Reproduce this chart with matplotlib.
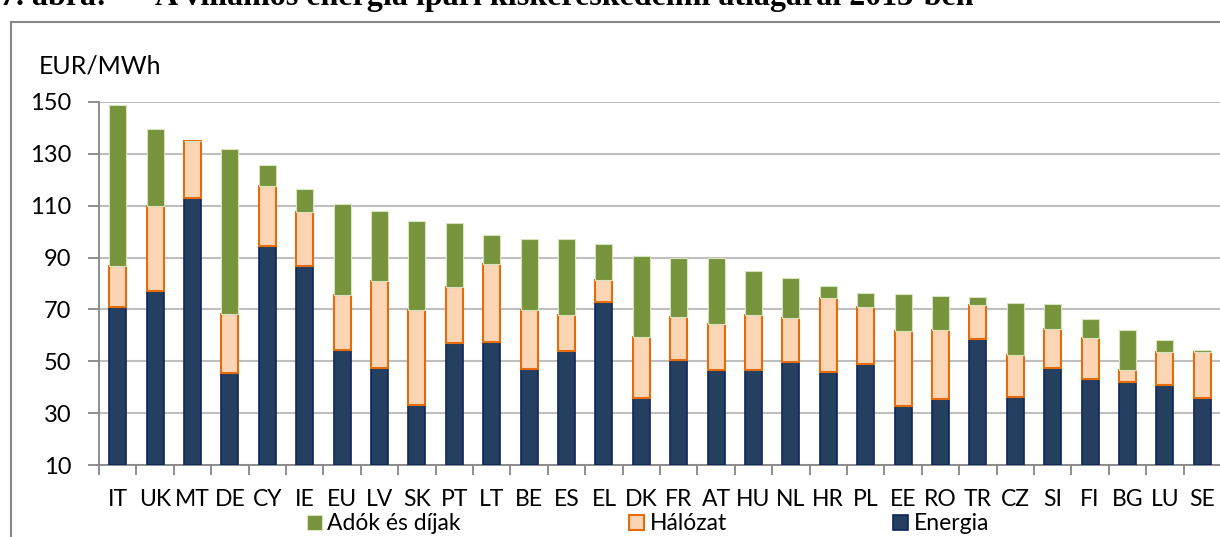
import matplotlib
matplotlib.use("Agg")
import matplotlib.pyplot as plt
import matplotlib.patches as mpatches
import numpy as np

plt.rcParams['font.family'] = ['Lato', 'DejaVu Sans']

countries = ['IT', 'UK', 'MT', 'DE', 'CY', 'IE', 'EU', 'LV', 'SK', 'PT', 'LT', 'BE', 'ES', 'EL', 'DK',
             'FR', 'AT', 'HU', 'NL', 'HR', 'PL', 'EE', 'RO', 'TR', 'CZ', 'SI', 'FI', 'BG', 'LU', 'SE']
energia = [71.0, 77.0, 112.8, 45.3, 94.3, 86.6, 54.4, 47.4, 33.2, 57.2, 57.5, 47.0, 53.8, 72.9, 35.8,
           50.6, 46.6, 46.6, 49.7, 46.0, 49.0, 32.8, 35.4, 58.6, 36.1, 47.6, 43.2, 42.0, 40.8, 35.8]
halozat = [15.6, 33.0, 22.2, 23.0, 23.2, 21.1, 21.0, 33.5, 36.6, 21.6, 29.9, 22.8, 14.1, 8.5, 23.7,
           16.6, 17.7, 21.2, 16.9, 28.3, 21.9, 29.0, 26.7, 13.2, 16.3, 14.9, 15.7, 4.8, 12.7, 17.7]
adok = [62.2, 29.4, 0.0, 63.4, 8.3, 8.7, 35.3, 27.2, 34.4, 24.5, 11.4, 27.5, 29.2, 13.8, 31.2,
        22.8, 25.5, 17.1, 15.5, 4.9, 5.4, 14.0, 13.0, 2.9, 20.0, 9.7, 7.5, 15.3, 4.6, 0.9]
yticks = [10, 30, 50, 70, 90, 110, 130, 150]

W, H = 1220, 537
FS = 16.5
fig = plt.figure(figsize=(W / 100, H / 100), dpi=100)
ax = fig.add_axes([99 / W, (H - 465) / H, 1122 / W, 363 / H])

x = np.arange(len(countries))
e = np.array(energia)
h = np.array(halozat)
a = np.array(adok)

b1 = ax.bar(x, e - 10, bottom=10, width=0.45, color='#243F60', edgecolor='#10245A', linewidth=1.2, zorder=3)
b2 = ax.bar(x, h, bottom=e, width=0.45, color='#FCD5B5', edgecolor='#E46C0A', linewidth=1.5, zorder=3)
b3 = ax.bar(x, a, bottom=e + h, width=0.45, color='#77933C', edgecolor='#D7E4BD', linewidth=0.8, zorder=3)

ax.set_xlim(-0.5, len(countries) - 0.5)
ax.set_ylim(10, 150)
ax.set_yticks(yticks)
ax.yaxis.grid(True, color='#BFBFBF', linewidth=1.5, zorder=0)
ax.set_axisbelow(True)

ax.set_xticks(x)
ax.set_xticklabels(countries)
ax.set_xticks(np.arange(len(countries)) - 0.5, minor=True)
ax.tick_params(axis='x', which='major', length=0, pad=17, labelsize=FS, colors='black')
ax.tick_params(axis='x', which='minor', length=7, width=1.3, color='#868686')
ax.tick_params(axis='y', length=8, width=1.3, color='#868686', pad=12, labelsize=FS + 0.5)

for s in ['top', 'right']:
    ax.spines[s].set_visible(False)
for s in ['left', 'bottom']:
    ax.spines[s].set_color('#868686')
    ax.spines[s].set_linewidth(1.3)

fig.text(39 / W, 1 - 66 / H, 'EUR/MWh', fontsize=18, va='center', ha='left')

# legend entries spread out like the original
items = [(b3, 'Adók és díjak', 296), (b2, 'Hálózat', 618), (b1, 'Energia', 882)]
for cont, lab, px in items:
    fig.legend([cont[0]], [lab], loc='center left', bbox_to_anchor=(px / W, 1 - 524 / H),
               frameon=False, borderpad=0, handlelength=0.62, handleheight=0.62,
               handletextpad=0.25, fontsize=FS)

# outer frame (partly out of picture)
frame = mpatches.Rectangle((11 / W, -0.2), 1.2, 1.2 + (H - 22) / H - 1.0, transform=fig.transFigure,
                           fill=False, edgecolor='#868686', linewidth=1.5)
fig.add_artist(frame)

# title, mostly cut off at top as in the source page
fig.text(0 / W, 1 - 5 / H, '7. ábra:', fontsize=23, fontweight='bold',
         family='Liberation Serif', va='baseline')
fig.text(155 / W, 1 - 5 / H, 'A villamos energia ipari kiskereskedelmi átlagárai 2013-ben', fontsize=23,
         fontweight='bold', family='Liberation Serif', va='baseline')

fig.savefig('out.png', dpi=100)
plt.close(fig)
